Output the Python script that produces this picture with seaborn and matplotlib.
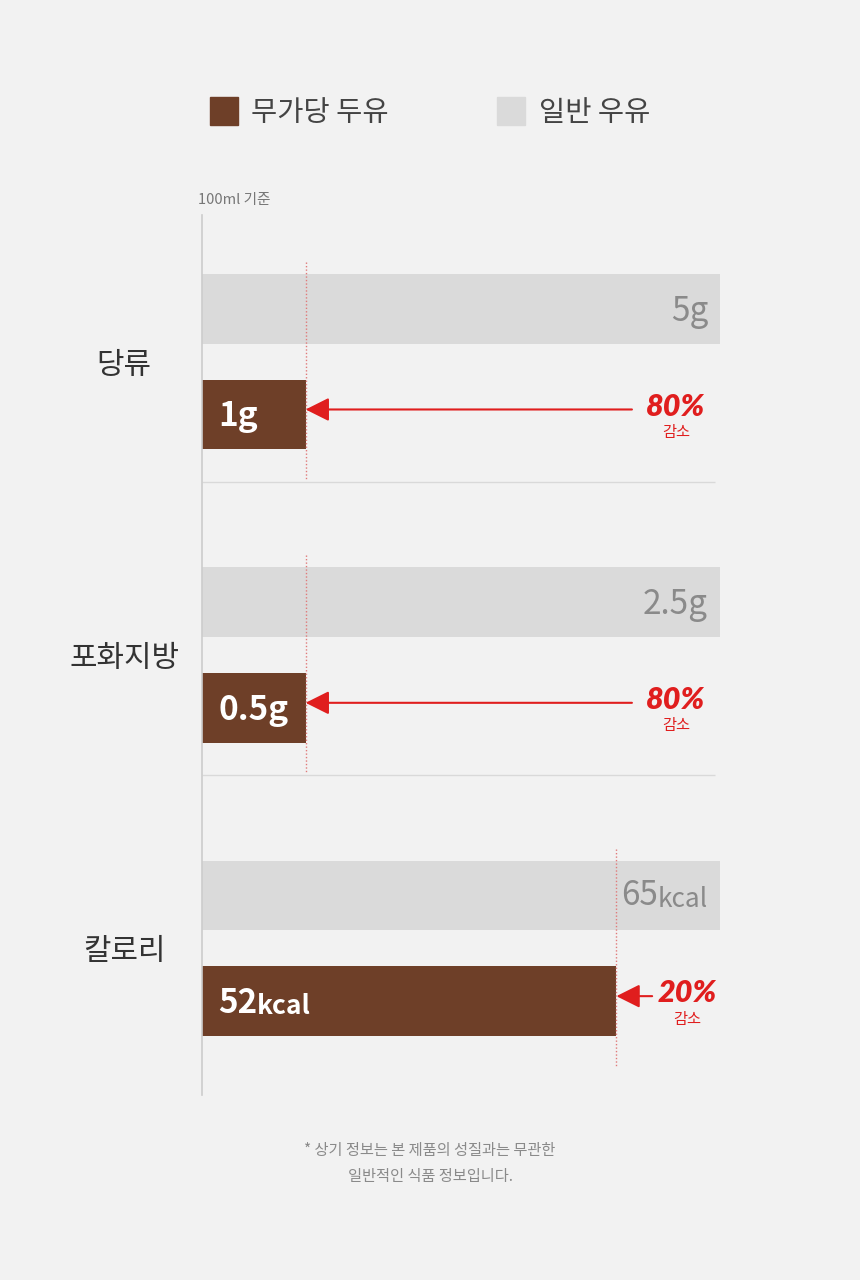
import matplotlib
matplotlib.use("Agg")
import matplotlib.pyplot as plt
from matplotlib.lines import Line2D
import seaborn as sns
import pandas as pd

# ---- data ----
categories = ['당류', '포화지방', '칼로리']
series = ['무가당 두유', '일반 우유']
soy_values = [1, 0.5, 52]
milk_values = [5, 2.5, 65]
units = ['g', 'g', 'kcal']
basis_note = '100ml 기준'
footnote = ['* 상기 정보는 본 제품의 성질과는 무관한', '일반적인 식품 정보입니다.']

sns.set_theme(style='white')
plt.rcParams['font.family'] = ['Noto Sans CJK KR', 'DejaVu Sans']

BG = '#f2f2f2'
BROWN = '#6e3f28'
GRAY = '#dadada'
RED = '#e01e1e'

rows = []
for c, s, m in zip(categories, soy_values, milk_values):
    rows.append({'category': c, 'series': series[1], 'pct': 100.0})
    rows.append({'category': c, 'series': series[0], 'pct': s / m * 100})
df = pd.DataFrame(rows)

fig = plt.figure(figsize=(8.6, 12.8), dpi=100)
fig.patch.set_facecolor(BG)
ax = fig.add_axes([202 / 860, 1 - 1095 / 1280, 518 / 860, (1095 - 215) / 1280])
ax.set_facecolor(BG)

sns.barplot(data=df, y='category', x='pct', hue='series',
            hue_order=[series[1], series[0]],
            palette={series[1]: GRAY, series[0]: BROWN},
            orient='h', width=0.72, gap=0.34, saturation=1,
            legend=False, ax=ax, order=categories, linewidth=0)

ax.set_xlim(0, 100)
ax.set_ylim(2.5, -0.5)
ax.set_xlabel('')
ax.set_ylabel('')
ax.set_xticks([])
for sp in ['top', 'right', 'bottom']:
    ax.spines[sp].set_visible(False)
ax.spines['left'].set_color('#cccccc')
ax.spines['left'].set_linewidth(1.2)
ax.tick_params(axis='y', length=0, pad=56, labelsize=21.5, labelcolor='#333333')
for lbl in ax.get_yticklabels():
    lbl.set_ha('center')

off = 0.18
for i, (c, s, m, u) in enumerate(zip(categories, soy_values, milk_values, units)):
    pct = s / m * 100
    red = round((1 - s / m) * 100)
    if i < len(categories) - 1:
        ax.hlines(i + 0.41, 0, 99, color='#d9d9d9', lw=1)
    ax.vlines(pct, i - 0.34, i + 0.40, colors='#e07a7a', linestyles=(0, (1, 1.5)), lw=1)
    yb_g = i - off + 0.04
    yb_b = i + off + 0.04
    if u == 'kcal':
        t1 = ax.text(97.7, yb_g, u, ha='right', va='baseline', fontsize=19,
                     color='#8a8a8a', fontweight='light')
        ax.annotate(f'{m:g}', xy=(0, 0), xycoords=t1, ha='right', va='bottom',
                    fontsize=24, color='#8a8a8a', fontweight='light')
        t2 = ax.text(3.1, yb_b, f'{s:g}', ha='left', va='baseline', fontsize=24,
                     color='white', fontweight='bold')
        ax.annotate(u, xy=(1, 0), xycoords=t2, ha='left', va='bottom',
                    fontsize=19, color='white', fontweight='bold')
    else:
        ax.text(97.7, yb_g, f'{m:g}{u}', ha='right', va='baseline', fontsize=24,
                color='#8a8a8a', fontweight='light')
        ax.text(3.1, yb_b, f'{s:g}{u}', ha='left', va='baseline', fontsize=24,
                color='white', fontweight='bold')
    start = 83.0 if pct < 50 else 86.9
    txt_x = 91.5 if pct < 50 else 93.6
    ay = i + off - 0.017
    ax.annotate('', xy=(pct, ay), xytext=(start, ay),
                arrowprops=dict(arrowstyle='-|>', color=RED, lw=1.5,
                                mutation_scale=36, shrinkA=0, shrinkB=0))
    ax.text(txt_x, i + off - 0.027, f'{red}%', ha='center', va='center',
            fontsize=22, color=RED, fontweight='heavy', style='italic',
            family=['Lato', 'DejaVu Sans'])
    ax.text(txt_x, i + off + 0.061, '감소', ha='center', va='center',
            fontsize=11, color=RED)

handles = [Line2D([], [], marker='s', ls='', markersize=19.5, color=BROWN),
           Line2D([], [], marker='s', ls='', markersize=19.5, color=GRAY)]
fig.legend(handles, series, loc='center', bbox_to_anchor=(0.5, 1 - 113 / 1280),
           ncol=2, frameon=False, fontsize=20.5, handlelength=1.0,
           handletextpad=0.45, columnspacing=3.8, labelcolor='#444444')

fig.text(198 / 860, 1 - 200 / 1280, basis_note, ha='left', va='center',
         fontsize=10.5, color='#777777')
fig.text(0.5, 1 - 1150 / 1280, footnote[0], ha='center', va='center',
         fontsize=11, color='#8a8a8a')
fig.text(0.5, 1 - 1177 / 1280, footnote[1], ha='center', va='center',
         fontsize=11, color='#8a8a8a')

fig.savefig('out.png', dpi=100, facecolor=BG)
